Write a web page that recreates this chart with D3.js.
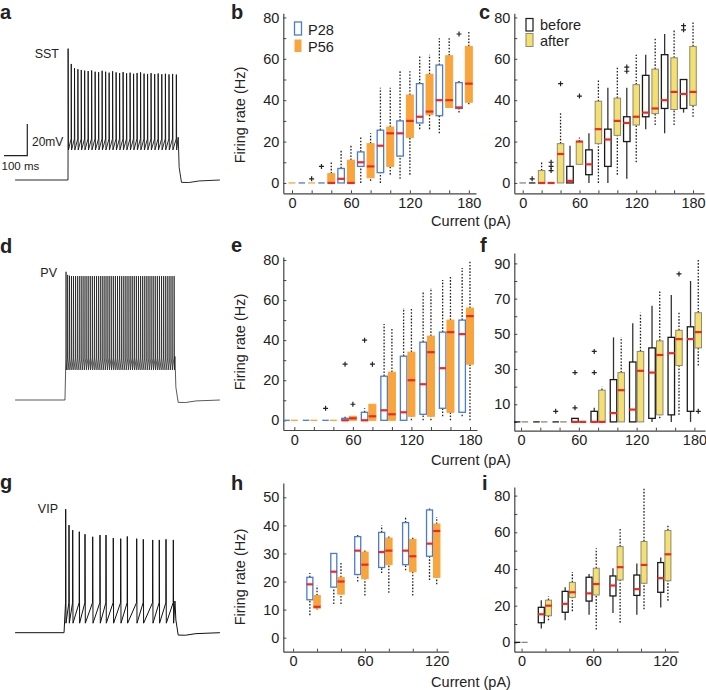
<!DOCTYPE html>
<html>
<head>
<meta charset="utf-8">
<script src="https://cdn.jsdelivr.net/npm/d3@7"></script>
<style>
  body { margin: 0; background: #fff; }
  svg text { font-family: "Liberation Sans", Arial, sans-serif; fill: #222; }
</style>
</head>
<body>
<div id="container"></div>
<script>
// ---- box plot data: [low whisker, q1, median, q3, high whisker], null = nothing drawn
const currents180 = [0, 20, 40, 60, 80, 100, 120, 140, 160, 180];
const currents120 = [20, 40, 60, 80, 100, 120];
const currents120z = [0, 20, 40, 60, 80, 100, 120];

// b: SST, P28 vs P56
const bP28 = [null, [0,0,null,0,0], [0,0,null,0,0], [0,0,2,7,16], [0,8,10,15,22], [0,5,18,25.5,46],
  [2,13,24,30,54], [26,29,32,48,62], [24,32.5,40,57,70], [34,36,36.5,48.5,50]];
const bP28Out = [[], [], [8], [], [], [], [], [], [], [72]];
const bP56 = [[0,0,null,0,0], [0,0,null,0,0], [0,0,0,4.5,10], [0,0,0,11,18], [1,2.5,8,19,24], [4,8,24,27,46],
  [4,22,30,42.5,54], [26,33,34.5,52.5,62], [36.5,36.5,40,61.5,70], [38,39,48,66,73]];
const bP56Out = [[], [2], [], [], [], [], [], [], [], []];

// c: SST, before vs after
const cBefore = [null, [0,0,null,0,0], [0,0,0,0,0], [0,0,1,8,18], [0,4,9,16,24], [0,8,21,26,46],
  [2,20,29,32,46], [26,32,34,52,62], [24,36,40,62,72], [34,36,43,50,50]];
const cBeforeOut = [[], [2], [6,8,10], [], [], [], [54,56], [], [], [74,76]];
const cAfter = [[0,0,null,0,0], [0,0,0,6,10], [0,0,14,19,34], [9,9,20,20,22], [0,19,26,39.5,50], [4,23,30,41,56],
  [10,28,32,47.5,62], [28,33.5,36,55,70], [28,35.5,44,60.5,74], [32,37.5,44,66,78]];
const cAfterOut = [[], [], [48], [42], [], [], [], [], [], []];

// e: PV, P28 vs P56
const eP28 = [[0,0,null,0,0], [0,0,null,0,0], [0,0,null,0,0], [0,0,0,1,2], [0,0,0,4,6], [0,0,5,22,48],
  [0,0,4,32,56], [0,3,18,39,64], [2,6,26,44,70], [2,4,43,50,76]];
const eP28Out = [[], [], [6], [28], [40], [], [], [], [], []];
const eP56 = [[0,0,null,0,0], [0,0,null,0,0], [0,0,null,0,0], [0,0,1,2,2], [0,0,2,8,8], [0,0,3,24,46],
  [0,2,20,34,56], [0,2,34,42,66], [0,4,44,50,72], [0,28,52,56,80]];
const eP56Out = [[], [], [], [8], [28], [], [], [], [], []];

// f: PV, before vs after
const fBefore = [[0,0,null,0,0], [0,0,null,0,0], [0,0,null,0,0], [0,0,0,2,2], [0,0,0,6,8], [0,0,5,24,48],
  [0,0,7,34,56], [0,2,28,42,66], [0,4,39,48,72], [0,6,47,54,80]];
const fBeforeOut = [[], [], [6], [8,28], [28,40], [], [], [], [], []];
const fAfter = [[0,0,null,0,0], [0,0,null,0,0], [0,0,null,0,0], [0,0,0,0,0], [0,0,0,18,20], [0,0,18,28,48],
  [0,0,29,40,62], [2,4,38,46,74], [4,32,47,52,62], [32,42,51,62,92]];
const fAfterOut = [[], [], [], [], [], [], [], [], [84], [6]];

// h: VIP, P28 vs P56
const hP28 = [[8,13.5,19,21.5,23], [12,18,23.5,30,30], [20,22.5,31,36,37], [23,25,30.5,37.5,40],
  [24,26,31,41,43], [20.5,29,33.5,45.5,46]];
const hP56 = [[10,10.5,11,15,18.5], [12,15.5,20,21.5,27], [15,21,26,30.5,31.5], [16,26,31,35.5,36.5],
  [15,23.5,29,35,36], [19,21.5,38,40.5,43]];

// i: VIP, before vs after
const iBefore = [[0,0,null,0,0], [7.5,10.7,15.3,19.1,23], [12,16.4,21,27.8,30], [15,22.5,26.7,35.5,37.3],
  [16,25.3,31,36.2,40.4], [15,25.6,29,36.7,43], [19,27.3,35,43.5,46.2]];
const iAfter = [[0,0,null,0,0], [12,14.5,20,23,25], [17,24.5,27.3,32.7,38.4], [7,25.8,31.8,40.4,51.3],
  [10.7,34,41,52.2,62.2], [18,32.2,42.2,55,84], [22.7,33.6,48,61,64]];

// ---- example traces: spike times (ms from pulse onset) and peaks (mV)
const sstSpikeT = [0.5, 14, 28, 42.5, 57, 71.5, 86.5, 101.5, 116.5, 131.5, 146.5, 161.5, 176.5, 191.5, 206.5, 221.5,
  236.5, 251.5, 266.5, 281.5, 296.5, 311.5, 326.5, 341.5, 356.5, 372, 387, 402.5, 418, 433.5, 449, 465];
const sstPeak = [13, 3.3, 0.6, 0, -0.5, -0.9, -1.2, -0.8, -1.6, -1.9, -1.0, -1.6, -2.2, -1.3, -2.0, -2.4,
  -1.8, -2.6, -2.2, -2.9, -2.4, -2.0, -2.8, -3.0, -2.5, -3.1, -2.7, -3.2, -2.9, -3.3, -3.0, -3.4];
const pvSpikeT = [-8.5, -1.5, 6.5, 15, 23.5, 32.5, 41.5, 50.5, 59.5, 68.5, 77.5, 86.5, 95.5, 104.5, 113.5, 122.5,
  131.5, 140.5, 149.5, 158.5, 167.5, 176.5, 185.5, 194.5, 203.5, 212.5, 221.5, 230.5, 239.5, 248.5, 257.5, 266.5,
  275.5, 284.5, 293.5, 302.5, 311.5, 320.5, 329.5, 338.5, 347.5, 356.5, 365.5, 374.5, 383.5, 392.5, 401.5, 410.5,
  419.5, 428.5, 437.5, 446.5, 455.5];
const pvPeak = [11, 9, 8.5, 8.3, 8.3, 8.3, 8.3, 8.3, 8.3, 8.3, 8.3, 8.3, 8.3, 8.3, 8.3, 8.3, 8.3, 8.3, 8.3, 8.3,
  8.3, 8.3, 8.3, 8.3, 8.3, 8.3, 8.3, 8.3, 8.3, 8.3, 8.3, 8.3, 8.3, 8.3, 8.3, 8.3, 8.3, 8.3, 8.3, 8.3, 8.3, 8.3,
  8.3, 8.3, 8.3, 8.3, 8.3, 8.3, 8.3, 8.3, 8.3, 8.3, 8.3];
const vipSpikeT = [-9.9, 4.3, 20.2, 48.5, 73, 106, 137.3, 163.1, 194.4, 226.2, 254.5, 294.8, 323.2, 363.5, 391.8, 420.6, 452];
const vipPeak = [8, -2, -5.2, -6.2, -7.8, -9.4, -8.3, -8.3, -10.2, -10.6, -9.2, -10.6, -11.0, -11.4, -11.4, -11.0, -11.4];
// pulse onset/offset (ms), spike threshold and AHP trough (mV)
const sstPulse = { onset: 0, offset: 473, thr: -44, trough: -51 };
const pvPulse = { onset: -13, offset: 459, thr: -43.5, trough: -51 };
const vipPulse = { onset: -17, offset: 459, thr: -51, trough: -64 };

const W = 706, H = 690;
const svg = d3.select("#container").append("svg").attr("width", W).attr("height", H);

const styles = {
  p28: { stroke: "#4a7bd0", fill: "#fff", sw: 1.3, whisker: "dot", w: 6.5 },
  p56: { stroke: "#f7a53c", fill: "#f7a53c", sw: 1, whisker: "dot", w: 7 },
  before: { stroke: "#1a1a1a", fill: "#fff", sw: 1.3, whisker: "solid", w: 6.5 },
  after: { stroke: "#8c8a72", fill: "#f3df72", sw: 1, whisker: "dot", w: 6.5 }
};
const RED = "#ec2a23";

function drawSeries(g, x, y, currents, stats, outs, offset, st, w) {
  stats.forEach((s, i) => {
    if (!s) return;
    const cx = x(currents[i] + offset);
    const [lo, q1, med, q3, hi] = s;
    const wl = (a, b) => {
      if (a === b) return;
      const l = g.append("line").attr("x1", cx).attr("x2", cx).attr("y1", y(a)).attr("y2", y(b))
        .attr("stroke", st.whisker === "dot" ? "#222" : "#333").attr("stroke-width", 1.3);
      if (st.whisker === "dot") l.attr("stroke-dasharray", "1.6,1.6");
    };
    wl(lo, q1);
    wl(q3, hi);
    if (q3 > q1) {
      g.append("rect").attr("x", cx - w / 2).attr("y", y(q3)).attr("width", w).attr("height", y(q1) - y(q3))
        .attr("fill", st.fill).attr("stroke", st.stroke).attr("stroke-width", st.sw);
    } else if (med === null) {
      g.append("line").attr("x1", cx - w / 2).attr("x2", cx + w / 2).attr("y1", y(q1)).attr("y2", y(q1))
        .attr("stroke", st.stroke).attr("stroke-width", 1.3);
    }
    if (med !== null) {
      g.append("line").attr("x1", cx - w / 2 - 0.3).attr("x2", cx + w / 2 + 0.3).attr("y1", y(med)).attr("y2", y(med))
        .attr("stroke", RED).attr("stroke-width", 2.2);
    }
    (outs ? outs[i] : []).forEach(o => {
      const oy = y(o);
      g.append("path").attr("d", `M${cx - 2.5},${oy}h5M${cx},${oy - 2.5}v5`)
        .attr("stroke", "#222").attr("stroke-width", 1.2).attr("fill", "none");
    });
  });
}

function drawPanel(p) {
  const g = svg.append("g");
  const x = d3.scaleLinear().domain(p.xDom).range([p.left, p.right]);
  const y = d3.scaleLinear().domain(p.yDom).range([p.bottom, p.top]);
  const xa = g.append("g").attr("transform", `translate(0,${p.bottom})`)
    .call(d3.axisBottom(x).tickValues(p.xTicks).tickSizeInner(-3).tickSizeOuter(0).tickPadding(4.5)
      .tickFormat(d => p.xLabels.includes(d) ? d : ""));
  const ya = g.append("g").attr("transform", `translate(${p.left},0)`)
    .call(d3.axisLeft(y).tickValues(p.yTicks).tickSizeInner(-3).tickSizeOuter(0).tickPadding(4)
      .tickFormat(d => p.yLabels.includes(d) ? d : ""));
  [xa, ya].forEach(a => {
    a.select(".domain").attr("stroke", "#444").attr("stroke-width", 1.2);
    a.selectAll(".tick line").attr("stroke", "#444").attr("stroke-width", 1);
    a.selectAll("text").attr("font-size", 14.5).attr("fill", "#222")
      .attr("font-family", "Liberation Sans, Arial, sans-serif");
  });
  p.series.forEach(s => drawSeries(g, x, y, p.currents, s.stats, s.outs, s.offset, styles[s.style], s.w || styles[s.style].w));
  g.append("text").attr("x", p.letterX).attr("y", p.letterY).attr("font-size", 20).attr("font-weight", "bold")
    .attr("fill", "#111").text(p.letter);
  if (p.yTitle) {
    g.append("text").attr("transform", `translate(${p.left - 38},${p.yTitleY}) rotate(-90)`)
      .attr("text-anchor", "middle").attr("font-size", 14.5).text("Firing rate (Hz)");
  }
}

const tick180 = [0, 20, 40, 60, 80, 100, 120, 140, 160, 180];
const tick120 = [0, 20, 40, 60, 80, 100, 120];
const panels = [
  { letter: "b", letterX: 231, letterY: 19, left: 283.3, right: 476, top: 13.3, bottom: 193.3,
    xDom: [-8.85, 187.3], yDom: [-5, 82], currents: currents180, yTitle: true, yTitleY: 115,
    xTicks: tick180, xLabels: [0, 60, 120, 180], yTicks: [0,10,20,30,40,50,60,70,80], yLabels: [0,20,40,60,80],
    series: [{ stats: bP28, outs: bP28Out, offset: -10, style: "p28" }, { stats: bP56, outs: bP56Out, offset: 0, style: "p56" }] },
  { letter: "c", letterX: 479, letterY: 19, left: 514.3, right: 704, top: 13.3, bottom: 193.3,
    xDom: [-8.88, 191.6], yDom: [-5, 82], currents: currents180,
    xTicks: tick180, xLabels: [0, 60, 120, 180], yTicks: [0,10,20,30,40,50,60,70,80], yLabels: [0,20,40,60,80],
    series: [{ stats: cBefore, outs: cBeforeOut, offset: -10, style: "before" }, { stats: cAfter, outs: cAfterOut, offset: 0, style: "after" }] },
  { letter: "e", letterX: 231, letterY: 252, left: 283.3, right: 477, top: 257, bottom: 430,
    xDom: [-11.3, 187.2], yDom: [-4.84, 81.5], currents: currents180, yTitle: true, yTitleY: 342,
    xTicks: tick180, xLabels: [0, 60, 120, 180], yTicks: [0,10,20,30,40,50,60,70,80], yLabels: [0,20,40,60,80],
    series: [{ stats: eP28, outs: eP28Out, offset: -8, style: "p28" }, { stats: eP56, outs: eP56Out, offset: 0, style: "p56" }] },
  { letter: "f", letterX: 480, letterY: 252, left: 514.3, right: 705, top: 253, bottom: 430.7,
    xDom: [-7, 191], yDom: [-5, 95.9], currents: currents180,
    xTicks: tick180, xLabels: [0, 60, 120, 180], yTicks: [0,10,20,30,40,50,60,70,80,90], yLabels: [10,30,50,70,90],
    series: [{ stats: fBefore, outs: fBeforeOut, offset: -4, style: "before" }, { stats: fAfter, outs: fAfterOut, offset: 4, style: "after" }] },
  { letter: "h", letterX: 231, letterY: 490, left: 283.3, right: 448.3, top: 483, bottom: 651.7,
    xDom: [-8.2, 129.7], yDom: [-5, 55.1], currents: currents120, yTitle: true, yTitleY: 577,
    xTicks: tick120, xLabels: [0, 60, 120], yTicks: [0,10,20,30,40,50], yLabels: [0,10,20,30,40,50],
    series: [{ stats: hP28, offset: -6, style: "p28", w: 6 }, { stats: hP56, offset: 0, style: "p56", w: 6.5 }] },
  { letter: "i", letterX: 482, letterY: 490, left: 514.3, right: 678.3, top: 487, bottom: 651.7,
    xDom: [-6.1, 131.2], yDom: [-5.1, 84.7], currents: currents120z,
    xTicks: tick120, xLabels: [0, 60, 120], yTicks: [0,10,20,30,40,50,60,70,80], yLabels: [0,20,40,60,80],
    series: [{ stats: iBefore, offset: -3.5, style: "before", w: 6 }, { stats: iAfter, offset: 2.5, style: "after", w: 6 }] }
];
panels.forEach(drawPanel);

// legends
const leg = svg.append("g").attr("font-size", 14.5);
leg.append("rect").attr("x", 294.5).attr("y", 22).attr("width", 7).attr("height", 13)
  .attr("fill", "#fff").attr("stroke", styles.p28.stroke).attr("stroke-width", 1.3);
leg.append("text").attr("x", 308).attr("y", 34.5).text("P28");
leg.append("rect").attr("x", 294.5).attr("y", 39.5).attr("width", 7).attr("height", 12.5)
  .attr("fill", styles.p56.fill);
leg.append("text").attr("x", 308).attr("y", 51.5).text("P56");
leg.append("rect").attr("x", 526).attr("y", 18.5).attr("width", 7).attr("height", 12.5)
  .attr("fill", "#fff").attr("stroke", "#1a1a1a").attr("stroke-width", 1.2);
leg.append("text").attr("x", 540).attr("y", 30).text("before");
leg.append("text").attr("x", 540).attr("y", 45.5).text("after");
leg.append("rect").attr("x", 526).attr("y", 33.5).attr("width", 7).attr("height", 13)
  .attr("fill", styles.after.fill).attr("stroke", styles.after.stroke).attr("stroke-width", 1);

// x titles
[226, 465, 687].forEach(yy => svg.append("text").attr("x", 471).attr("y", yy).attr("text-anchor", "middle")
  .attr("font-size", 14.5).text("Current (pA)"));

// ---- traces
const tx = d3.scaleLinear().domain([0, 100]).range([68, 91.3]);
function tracePath(base, pulse, times, peaks) {
  const vy = d3.scaleLinear().domain([-70, -50]).range([base, base - 31.66]);
  const pts = [[-227, -70], [pulse.onset, -70]];
  times.forEach((t, i) => {
    pts.push([Math.max(t - 0.6, pulse.onset + 0.3), pulse.thr], [t, peaks[i]], [t + 1.3, pulse.trough]);
  });
  pts.push([pulse.offset, pulse.thr + 1], [pulse.offset + 4, -62], [pulse.offset + 14, -71.5],
    [pulse.offset + 45, -71.6], [pulse.offset + 90, -70.6], [652, -70]);
  return { d: d3.line().x(p => tx(p[0])).y(p => vy(p[1]))(pts), vy };
}
const traces = [
  { base: 180, pulse: sstPulse, t: sstSpikeT, pk: sstPeak, name: "SST", lx: 59, ly: 58, letter: "a", ay: 19, sw: 0.9 },
  { base: 400, pulse: pvPulse, t: pvSpikeT, pk: pvPeak, name: "PV", lx: 57, ly: 277, letter: "d", ay: 253, sw: 0.7 },
  { base: 632.7, pulse: vipPulse, t: vipSpikeT, pk: vipPeak, name: "VIP", lx: 58, ly: 513, letter: "g", ay: 489, sw: 1 }
];
traces.forEach(tr => {
  const { d } = tracePath(tr.base, tr.pulse, tr.t, tr.pk);
  svg.append("path").attr("d", d).attr("fill", "none").attr("stroke", "#111").attr("stroke-width", tr.sw)
    .attr("stroke-linejoin", "round");
  svg.append("text").attr("x", tr.lx).attr("y", tr.ly).attr("text-anchor", "end").attr("font-size", 12.5).text(tr.name);
  svg.append("text").attr("x", 0).attr("y", tr.ay).attr("font-size", 20).attr("font-weight", "bold")
    .attr("fill", "#111").text(tr.letter);
});

// scale bar (100 ms, 20 mV) on the SST trace
const sbY = d3.scaleLinear().domain([-70, -50]).range([180, 180 - 31.66]);
svg.append("path")
  .attr("d", `M${tx(-274.7)},${sbY(-54.6)}H${tx(-174.7)}V${sbY(-34.6)}`)
  .attr("fill", "none").attr("stroke", "#222").attr("stroke-width", 1.2);
svg.append("text").attr("x", 32).attr("y", 145.5).attr("font-size", 12).text("20mV");
svg.append("text").attr("x", 1.5).attr("y", 170).attr("font-size", 11.5).text("100 ms");
</script>
</body>
</html>
